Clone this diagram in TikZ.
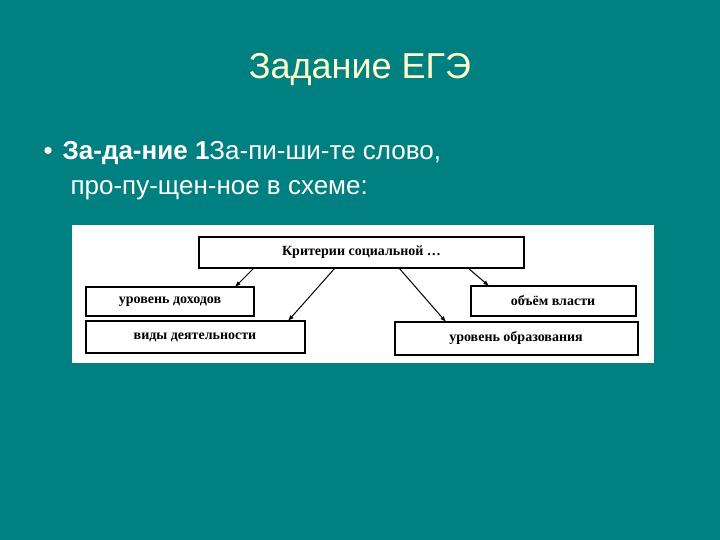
\documentclass[tikz,border=0pt]{standalone}
\usepackage{fontspec}
\setmainfont{Liberation Sans}
\newfontfamily\serifb{Liberation Serif}
\begin{document}
\begin{tikzpicture}[x=1pt,y=-1pt,
  bx/.style={draw=black,line width=1.2pt,fill=white,inner sep=0pt},
  lb/.style={font=\serifb\bfseries\fontsize{14}{16}\selectfont,text=black},
  ar/.style={-latex,line width=1pt}]
\fill[fill={rgb,255:red,0;green,128;blue,128}] (0,0) rectangle (720,540);
\useasboundingbox (0,0) rectangle (720,540);
\node[text={rgb,255:red,255;green,255;blue,204},font=\fontsize{36}{40}\selectfont] (title) at (360,70) {Задание ЕГЭ};
\node[text=white,anchor=west,font=\fontsize{26}{30}\selectfont] (b1) at (40,153) {•\hspace{10pt}\textbf{За-да-ние 1}За-пи-ши-те слово,};
\node[text=white,anchor=west,font=\fontsize{26}{30}\selectfont] (b2) at (67,190) {про-пу-щен-ное в схеме:};
\fill[white] (72,225) rectangle (654,363);
\draw[bx] (199,237) rectangle (524,268);
\node[lb] (t) at (361.5,252.5) {Критерии социальной \dots};
\draw[bx] (86,287) rectangle (254,316);
\node[lb] (l1) at (170,301.5) {уровень доходов};
\draw[bx] (86,321) rectangle (305,353);
\node[lb] (l2) at (195,337) {виды деятельности};
\draw[bx] (471,286) rectangle (636,316);
\node[lb] (r1) at (553,301) {объём власти};
\draw[bx] (395,322) rectangle (638,355);
\node[lb] (r2) at (516,338) {уровень образования};
\coordinate (s1) at (254,268); \coordinate (e1) at (235,287);
\coordinate (s2) at (335,268); \coordinate (e2) at (288,321);
\coordinate (s3) at (399,268); \coordinate (e3) at (446,322);
\coordinate (s4) at (468,268); \coordinate (e4) at (489,286);
\draw[ar] (s1) -- (e1);
\draw[ar] (s2) -- (e2);
\draw[ar] (s3) -- (e3);
\draw[ar] (s4) -- (e4);
\end{tikzpicture}
\end{document}
